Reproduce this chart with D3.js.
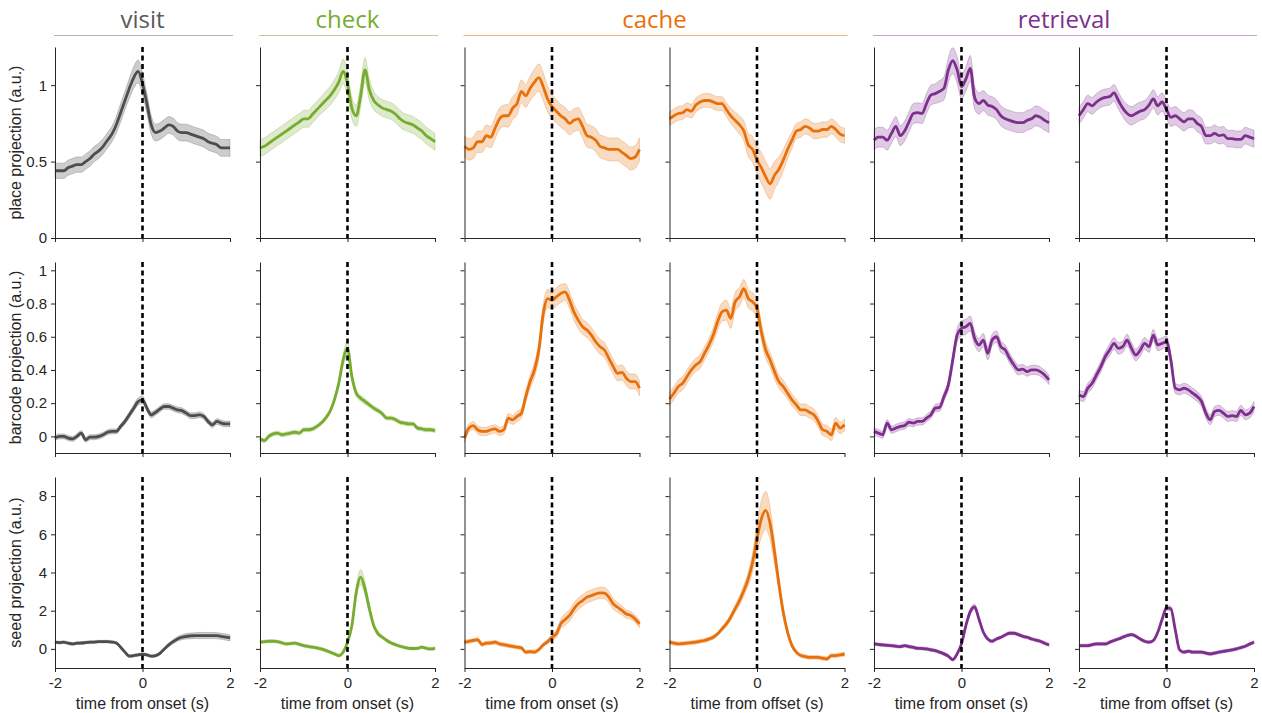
<!DOCTYPE html>
<meta charset="utf-8">
<style>
    body {
        margin: 0;
        background: #ffffff;
    }
    .axis path, .axis line {
        stroke: #262626;
        stroke-width: 1;
    }
    .axis text {
        font: 15px "Liberation Sans", Arial, sans-serif;
        fill: #262626;
    }
    .label {
        font: 16px "Liberation Sans", Arial, sans-serif;
        fill: #262626;
    }
    .title {
        font: 24px "Open Sans", sans-serif;
    }
</style>
<body>
<script src="https://cdn.jsdelivr.net/npm/d3@7"></script>
<script>

    // time grid, seconds
    var time = [-2.0, -1.9, -1.8, -1.7, -1.6, -1.5, -1.4, -1.3, -1.2, -1.1,
                -1.0, -0.9, -0.8, -0.7, -0.6, -0.5, -0.4, -0.3, -0.2, -0.1,
                 0.0,  0.1,  0.2,  0.3,  0.4,  0.5,  0.6,  0.7,  0.8,  0.9,
                 1.0,  1.1,  1.2,  1.3,  1.4,  1.5,  1.6,  1.7,  1.8,  1.9, 2.0];

    var groups = ["visit", "check", "cache", "retrieval"];
    var groupCols = [[0, 0], [1, 1], [2, 3], [4, 5]];
    var groupText = ["#5a5a5a", "#77ac30", "#e8700a", "#7e2f8e"];
    var groupRule = ["#b4b4b4", "#b5d48f", "#f3b57c", "#c8a2d0"];
    var colGroup = [0, 1, 2, 2, 3, 3];
    var lineColor = ["#4d4d4d", "#77ac30", "#e8700a", "#7e2f8e"];
    var xLabels = ["time from onset (s)", "time from onset (s)", "time from onset (s)",
                   "time from offset (s)", "time from onset (s)", "time from offset (s)"];
    var rowLabels = ["place projection (a.u.)", "barcode projection (a.u.)", "seed projection (a.u.)"];
    var rowDomains = [[0, 1.25], [-0.1, 1.05], [-1, 9]];
    var rowTicks = [[0, 0.5, 1], [0, 0.2, 0.4, 0.6, 0.8, 1], [0, 2, 4, 6, 8]];
    var xTicks = [-2, 0, 2];

    // place projection: visit, check, cache on, cache off, retrieval on, retrieval off
    var placeMean = [
        [0.44,0.44,0.44,0.46,0.47, 0.48,0.48,0.50,0.52,0.55, 0.57,0.60,0.64,0.68,0.74, 0.82,0.90,0.98,1.05,1.09,
         1.01, 0.88,0.74,0.69,0.70,0.72, 0.74,0.73,0.70,0.69,0.69, 0.68,0.67,0.66,0.65,0.63, 0.62,0.61,0.59,0.59,0.59],
        [0.59,0.60,0.62,0.64,0.66, 0.68,0.70,0.72,0.74,0.76, 0.78,0.78,0.81,0.84,0.87, 0.90,0.93,0.97,1.02,1.09,
         1.01, 0.85,0.80,0.93,1.10,0.97, 0.90,0.87,0.85,0.84,0.83, 0.81,0.78,0.76,0.75,0.74, 0.72,0.70,0.67,0.65,0.63],
        [0.60,0.58,0.59,0.63,0.63, 0.67,0.66,0.72,0.78,0.80, 0.80,0.85,0.88,0.96,0.93, 0.98,1.02,1.05,0.99,0.91,
         0.86, 0.83,0.80,0.78,0.75,0.77, 0.78,0.73,0.67,0.66,0.64, 0.60,0.59,0.58,0.58,0.58, 0.56,0.54,0.52,0.53,0.58],
        [0.78,0.80,0.815,0.82,0.84, 0.83,0.87,0.89,0.90,0.90, 0.89,0.88,0.88,0.84,0.80, 0.77,0.74,0.70,0.61,0.58,
         0.51, 0.46,0.40,0.355,0.41,0.45, 0.51,0.58,0.64,0.70,0.71, 0.73,0.72,0.70,0.70,0.71, 0.71,0.73,0.71,0.68,0.67],
        [0.64,0.66,0.66,0.64,0.685, 0.73,0.67,0.70,0.76,0.815, 0.82,0.815,0.88,0.935,0.945, 0.96,0.98,1.10,1.16,1.10,
         0.99, 1.04,1.11,0.92,0.88,0.90, 0.87,0.86,0.84,0.80,0.78, 0.77,0.76,0.755,0.755,0.77, 0.78,0.80,0.79,0.77,0.755],
        [0.80,0.84,0.88,0.865,0.89, 0.91,0.92,0.925,0.95,0.90, 0.85,0.815,0.80,0.815,0.83, 0.84,0.87,0.91,0.865,0.89,
         0.84, 0.79,0.80,0.78,0.76,0.78, 0.78,0.75,0.73,0.67,0.67, 0.685,0.67,0.675,0.65,0.65, 0.645,0.645,0.67,0.66,0.65]
    ];
    var placeSem = [
        [0.05,0.05,0.05,0.05,0.05, 0.05,0.05,0.05,0.05,0.05, 0.05,0.05,0.05,0.05,0.055, 0.06,0.06,0.065,0.07,0.075,
         0.07, 0.065,0.06,0.055,0.055,0.055, 0.055,0.055,0.055,0.055,0.055, 0.055,0.055,0.055,0.055,0.055, 0.055,0.055,0.055,0.055,0.055],
        [0.055,0.055,0.055,0.055,0.055, 0.055,0.055,0.055,0.055,0.055, 0.055,0.055,0.055,0.055,0.055, 0.06,0.06,0.065,0.07,0.08,
         0.08, 0.07,0.07,0.075,0.08,0.07, 0.06,0.055,0.055,0.055,0.055, 0.055,0.055,0.055,0.055,0.055, 0.055,0.055,0.055,0.055,0.055],
        [0.07,0.07,0.07,0.07,0.07, 0.07,0.07,0.07,0.07,0.07, 0.075,0.075,0.075,0.075,0.075, 0.08,0.085,0.09,0.09,0.085,
         0.08, 0.075,0.075,0.075,0.075,0.075, 0.075,0.075,0.075,0.075,0.075, 0.075,0.075,0.075,0.075,0.075, 0.075,0.075,0.075,0.075,0.075],
        [0.045,0.045,0.045,0.045,0.045, 0.045,0.045,0.045,0.045,0.045, 0.045,0.045,0.045,0.045,0.05, 0.055,0.06,0.065,0.075,0.085,
         0.09, 0.1,0.1,0.1,0.09,0.08, 0.07,0.06,0.055,0.05,0.05, 0.05,0.05,0.05,0.05,0.05, 0.05,0.05,0.05,0.05,0.05],
        [0.065,0.065,0.065,0.065,0.065, 0.065,0.065,0.065,0.065,0.065, 0.065,0.065,0.065,0.065,0.065, 0.07,0.075,0.08,0.085,0.085,
         0.08, 0.08,0.085,0.075,0.07,0.065, 0.065,0.065,0.065,0.065,0.065, 0.065,0.065,0.065,0.065,0.065, 0.065,0.065,0.065,0.065,0.065],
        [0.055,0.055,0.055,0.055,0.055, 0.055,0.055,0.055,0.055,0.055, 0.055,0.06,0.06,0.06,0.06, 0.06,0.06,0.06,0.06,0.06,
         0.06, 0.06,0.06,0.06,0.06,0.06, 0.055,0.055,0.055,0.055,0.055, 0.055,0.055,0.055,0.055,0.055, 0.055,0.055,0.055,0.055,0.055]
    ];

    // barcode projection
    var barcodeMean = [
        [-0.01,0.00,0.00,-0.01,-0.015, 0.00,0.02,-0.02,-0.005,-0.005, 0.00,0.01,0.025,0.03,0.03, 0.06,0.09,0.13,0.17,0.21,
         0.22, 0.17,0.13,0.145,0.165,0.18, 0.18,0.17,0.16,0.155,0.14, 0.125,0.125,0.13,0.12,0.09, 0.07,0.09,0.08,0.075,0.075],
        [-0.015,-0.025,0.00,0.015,0.02, 0.01,0.015,0.02,0.025,0.02, 0.04,0.04,0.045,0.06,0.08, 0.11,0.15,0.22,0.32,0.46,
         0.53, 0.36,0.26,0.23,0.21,0.19, 0.17,0.155,0.135,0.11,0.11, 0.10,0.085,0.08,0.075,0.075, 0.05,0.045,0.04,0.04,0.035],
        [-0.01,0.05,0.065,0.04,0.03, 0.03,0.04,0.045,0.03,0.04, 0.11,0.10,0.12,0.14,0.24, 0.33,0.40,0.52,0.74,0.83,
         0.82, 0.84,0.86,0.87,0.82,0.75, 0.70,0.66,0.64,0.61,0.57, 0.54,0.52,0.47,0.42,0.38, 0.385,0.35,0.33,0.33,0.29],
        [0.225,0.26,0.30,0.32,0.36, 0.40,0.43,0.45,0.50,0.55, 0.61,0.69,0.75,0.76,0.71, 0.81,0.84,0.89,0.83,0.81,
         0.77, 0.63,0.52,0.46,0.39,0.33, 0.30,0.26,0.22,0.19,0.16, 0.16,0.145,0.13,0.09,0.04, 0.03,0.01,0.08,0.05,0.07],
        [0.03,0.02,0.01,0.08,0.04, 0.05,0.06,0.066,0.085,0.08, 0.09,0.09,0.11,0.13,0.17, 0.175,0.24,0.31,0.46,0.61,
         0.65, 0.66,0.68,0.59,0.55,0.58, 0.50,0.58,0.60,0.54,0.52, 0.47,0.43,0.40,0.405,0.39, 0.40,0.40,0.39,0.37,0.34],
        [0.25,0.24,0.29,0.32,0.37, 0.42,0.48,0.52,0.56,0.53, 0.54,0.58,0.53,0.49,0.52, 0.56,0.54,0.61,0.55,0.56,
         0.57, 0.46,0.29,0.28,0.29,0.28, 0.26,0.24,0.21,0.14,0.10, 0.15,0.157,0.14,0.12,0.125, 0.12,0.157,0.13,0.14,0.18]
    ];
    var barcodeSem = [
        [0.015,0.015,0.015,0.015,0.015, 0.015,0.015,0.015,0.015,0.015, 0.015,0.015,0.015,0.015,0.015, 0.015,0.017,0.018,0.02,0.022,
         0.022, 0.02,0.018,0.017,0.017,0.017, 0.017,0.017,0.017,0.017,0.017, 0.017,0.017,0.017,0.017,0.017, 0.017,0.017,0.017,0.017,0.017],
        [0.012,0.012,0.012,0.012,0.012, 0.012,0.012,0.012,0.012,0.012, 0.012,0.012,0.012,0.012,0.013, 0.014,0.015,0.018,0.025,0.035,
         0.045, 0.03,0.02,0.018,0.016,0.015, 0.014,0.013,0.013,0.012,0.012, 0.012,0.012,0.012,0.012,0.012, 0.012,0.012,0.012,0.012,0.012],
        [0.025,0.025,0.025,0.025,0.025, 0.025,0.025,0.025,0.025,0.025, 0.028,0.028,0.03,0.03,0.035, 0.04,0.045,0.05,0.055,0.055,
         0.055, 0.055,0.055,0.05,0.05,0.05, 0.05,0.045,0.045,0.045,0.045, 0.045,0.045,0.045,0.045,0.045, 0.045,0.045,0.045,0.045,0.045],
        [0.04,0.04,0.04,0.04,0.04, 0.04,0.04,0.04,0.04,0.04, 0.045,0.05,0.055,0.06,0.06, 0.055,0.055,0.055,0.055,0.055,
         0.055, 0.05,0.05,0.045,0.045,0.04, 0.04,0.035,0.035,0.035,0.035, 0.035,0.035,0.035,0.035,0.035, 0.035,0.035,0.035,0.035,0.035],
        [0.022,0.022,0.022,0.022,0.022, 0.022,0.022,0.022,0.022,0.022, 0.022,0.022,0.022,0.022,0.022, 0.024,0.026,0.03,0.035,0.04,
         0.045, 0.045,0.045,0.04,0.04,0.04, 0.04,0.035,0.035,0.035,0.03, 0.03,0.03,0.03,0.028,0.028, 0.028,0.028,0.028,0.028,0.028],
        [0.03,0.03,0.03,0.03,0.03, 0.03,0.03,0.035,0.035,0.035, 0.035,0.035,0.035,0.035,0.035, 0.035,0.035,0.035,0.035,0.035,
         0.035, 0.035,0.03,0.03,0.03,0.03, 0.03,0.03,0.03,0.03,0.03, 0.03,0.03,0.03,0.03,0.03, 0.03,0.03,0.03,0.03,0.03]
    ];

    // seed projection
    var seedMean = [
        [0.35,0.33,0.35,0.30,0.26, 0.30,0.31,0.33,0.35,0.36, 0.38,0.38,0.38,0.36,0.31, 0.09,-0.17,-0.38,-0.35,-0.31,
         -0.28, -0.31,-0.38,-0.35,-0.23,0.00, 0.21,0.38,0.52,0.61,0.66, 0.68,0.70,0.70,0.70,0.70, 0.70,0.69,0.66,0.62,0.58],
        [0.35,0.38,0.40,0.40,0.38, 0.32,0.26,0.28,0.30,0.24, 0.17,0.13,0.09,0.05,0.00, -0.08,-0.17,-0.26,-0.35,-0.17,
         0.35, 1.22,2.97,3.76,3.14,2.10, 1.22,0.79,0.61,0.44,0.31, 0.22,0.14,0.08,0.03,0.02, 0.03,0.09,0.03,0.00,0.03],
        [0.35,0.40,0.44,0.49,0.23, 0.30,0.31,0.35,0.26,0.22, 0.17,0.13,0.09,0.05,-0.17, -0.14,-0.17,-0.03,0.21,0.38,
         0.61, 0.79,1.31,1.54,1.75,2.10, 2.36,2.53,2.71,2.79,2.88, 2.93,2.92,2.71,2.36,2.18, 2.01,1.83,1.75,1.57,1.31],
        [0.35,0.30,0.26,0.28,0.30, 0.33,0.35,0.40,0.44,0.52, 0.61,0.79,1.05,1.31,1.66, 2.10,2.53,3.06,3.67,4.54,
         5.76, 6.81,7.25,6.55,5.07,3.41, 1.92,0.87,0.17,-0.17,-0.35, -0.40,-0.44,-0.44,-0.44,-0.49, -0.52,-0.35,-0.35,-0.31,-0.28],
        [0.26,0.23,0.21,0.19,0.17, 0.14,0.12,0.17,0.12,0.08, 0.03,0.02,0.00,-0.05,-0.09, -0.17,-0.26,-0.38,-0.56,-0.26,
         0.26, 1.22,1.95,2.20,1.55,0.87, 0.52,0.40,0.52,0.61,0.73, 0.82,0.82,0.75,0.66,0.61, 0.52,0.46,0.40,0.30,0.21],
        [0.17,0.17,0.17,0.22,0.26, 0.26,0.26,0.35,0.44,0.52, 0.61,0.70,0.75,0.66,0.52, 0.40,0.35,0.44,0.87,1.55,
         2.15, 2.10,1.00,-0.05,-0.17, -0.12,-0.17,-0.17,-0.17,-0.22, -0.26,-0.22,-0.17,-0.13,-0.09, -0.05,0.00,0.07,0.14,0.25, 0.35]
    ];
    var seedSem = [
        [0.07,0.07,0.07,0.07,0.07, 0.07,0.07,0.07,0.07,0.07, 0.07,0.07,0.07,0.07,0.07, 0.07,0.07,0.07,0.07,0.07,
         0.07, 0.07,0.07,0.07,0.08,0.09, 0.1,0.11,0.12,0.13,0.14, 0.15,0.15,0.16,0.16,0.16, 0.16,0.16,0.16,0.16,0.16],
        [0.08,0.08,0.08,0.08,0.08, 0.08,0.08,0.08,0.08,0.08, 0.08,0.08,0.08,0.08,0.08, 0.08,0.08,0.08,0.08,0.08,
         0.1, 0.15,0.3,0.4,0.35,0.25, 0.15,0.12,0.1,0.09,0.08, 0.08,0.08,0.08,0.08,0.08, 0.08,0.08,0.08,0.08,0.08],
        [0.1,0.1,0.1,0.1,0.1, 0.1,0.1,0.1,0.1,0.1, 0.1,0.1,0.1,0.1,0.1, 0.1,0.1,0.1,0.1,0.12,
         0.15, 0.2,0.25,0.3,0.3,0.3, 0.3,0.3,0.3,0.3,0.3, 0.3,0.3,0.3,0.28,0.26, 0.24,0.22,0.2,0.2,0.2],
        [0.1,0.1,0.1,0.1,0.1, 0.1,0.1,0.1,0.1,0.1, 0.1,0.1,0.12,0.14,0.16, 0.2,0.24,0.28,0.35,0.5,
         0.75, 0.95,1.0,0.85,0.6,0.4, 0.25,0.15,0.1,0.1,0.1, 0.1,0.1,0.1,0.1,0.1, 0.1,0.1,0.1,0.1,0.1],
        [0.08,0.08,0.08,0.08,0.08, 0.08,0.08,0.08,0.08,0.08, 0.08,0.08,0.08,0.08,0.08, 0.08,0.08,0.08,0.08,0.08,
         0.09, 0.12,0.15,0.15,0.12,0.1, 0.08,0.08,0.08,0.08,0.08, 0.08,0.08,0.08,0.08,0.08, 0.08,0.08,0.08,0.08,0.08],
        [0.08,0.08,0.08,0.08,0.08, 0.08,0.08,0.08,0.08,0.08, 0.08,0.08,0.08,0.08,0.08, 0.08,0.08,0.08,0.09,0.11,
         0.13, 0.12,0.1,0.08,0.08, 0.08,0.08,0.08,0.08,0.08, 0.08,0.08,0.08,0.08,0.08, 0.08,0.08,0.08,0.08,0.08, 0.08]
    ];

    var means = [placeMean, barcodeMean, seedMean];
    var sems = [placeSem, barcodeSem, seedSem];

    // layout
    var colLeft = [55, 260, 464.5, 669.5, 874, 1079],
            panelW = 175,
            rowTop = [47, 262, 477],
            panelH = 191;

    var svg = d3.select("body").append("svg")
            .attr("width", 1262)
            .attr("height", 713);

    // group titles
    groups.forEach(function(name, g) {
        var x0 = colLeft[groupCols[g][0]],
            x1 = colLeft[groupCols[g][1]] + panelW;
        svg.append("text")
                .attr("class", "title")
                .attr("x", (x0 + x1) / 2)
                .attr("y", 28)
                .attr("text-anchor", "middle")
                .style("fill", groupText[g])
                .text(name);
        svg.append("line")
                .attr("x1", x0 - 1)
                .attr("x2", x1 + 3)
                .attr("y1", 35.5)
                .attr("y2", 35.5)
                .style("stroke", groupRule[g])
                .style("stroke-width", 1.2);
    });

    for (var r = 0; r < 3; r++) {
        for (var c = 0; c < 6; c++) {
            drawPanel(r, c);
        }
    }

    function drawPanel(r, c) {
        var x = d3.scaleLinear().domain([-2, 2]).range([0, panelW]);
        var y = d3.scaleLinear().domain(rowDomains[r]).range([panelH, 0]);
        var color = lineColor[colGroup[c]];
        var mean = means[r][c], sem = sems[r][c];

        var data = time.map(function(t, i) {
            return {t: t, m: mean[i], s: sem[i]};
        });

        var g = svg.append("g")
                .attr("transform", "translate(" + colLeft[c] + "," + rowTop[r] + ")");

        var area = d3.area()
                .curve(d3.curveMonotoneX)
                .x(function(d) { return x(d.t); })
                .y0(function(d) { return y(d.m - d.s); })
                .y1(function(d) { return y(d.m + d.s); });

        var line = d3.line()
                .curve(d3.curveMonotoneX)
                .x(function(d) { return x(d.t); })
                .y(function(d) { return y(d.m); });

        g.append("path")
                .datum(data)
                .attr("d", area)
                .style("fill", color)
                .style("fill-opacity", colGroup[c] == 0 ? 0.28 : 0.25)
                .style("stroke", color)
                .style("stroke-opacity", 0.35)
                .style("stroke-width", 0.8);

        g.append("path")
                .datum(data)
                .attr("d", line)
                .style("fill", "none")
                .style("stroke", color)
                .style("stroke-width", 2.8)
                .style("stroke-linejoin", "round");

        // event marker at t = 0
        g.append("line")
                .attr("x1", x(0))
                .attr("x2", x(0))
                .attr("y1", 0)
                .attr("y2", panelH)
                .style("stroke", "#000")
                .style("stroke-width", 2.6)
                .style("stroke-dasharray", "5,3.5");

        var yAxis = d3.axisLeft(y)
                .tickValues(rowTicks[r])
                .tickSize(4)
                .tickSizeOuter(0)
                .tickPadding(4)
                .tickFormat(function(d) { return c == 0 ? String(d) : ""; });

        var xAxis = d3.axisBottom(x)
                .tickValues(xTicks)
                .tickSize(4)
                .tickSizeOuter(0)
                .tickPadding(5)
                .tickFormat(function(d) { return r == 2 ? String(d) : ""; });

        g.append("g")
                .attr("class", "axis")
                .call(yAxis);

        g.append("g")
                .attr("class", "axis")
                .attr("transform", "translate(0," + panelH + ")")
                .call(xAxis);

        if (c == 0) {
            g.append("text")
                    .attr("class", "label")
                    .attr("transform", "translate(-34," + (panelH / 2) + ") rotate(-90)")
                    .attr("text-anchor", "middle")
                    .text(rowLabels[r]);
        }

        if (r == 2) {
            g.append("text")
                    .attr("class", "label")
                    .attr("x", panelW / 2)
                    .attr("y", panelH + 41)
                    .attr("text-anchor", "middle")
                    .text(xLabels[c]);
        }
    }

</script>
